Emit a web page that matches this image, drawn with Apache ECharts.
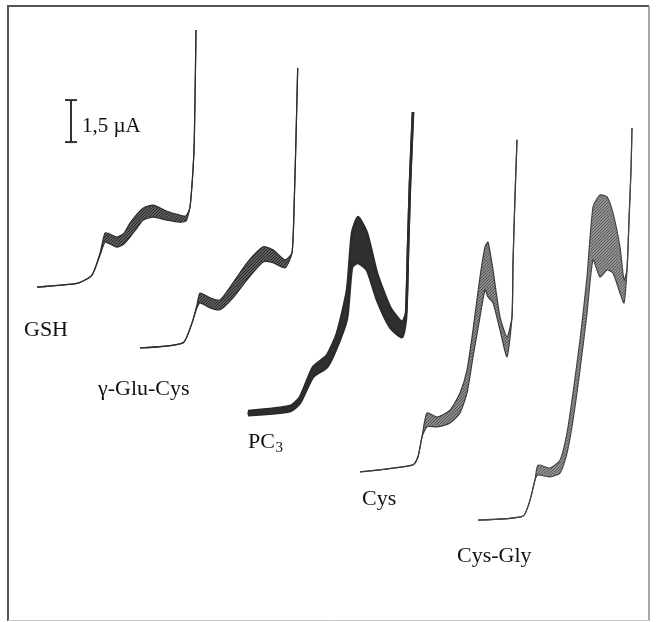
<!DOCTYPE html>
<html>
<head>
<meta charset="utf-8">
<script src="https://cdn.jsdelivr.net/npm/echarts@6/dist/echarts.min.js"></script>
<style>
  html, body { margin: 0; padding: 0; background: #fff; }
  #chart { width: 657px; height: 622px; }
</style>
</head>
<body>
<div id="chart"></div>
<script>
// Polarographic waterfall: potential E (mV, relative to each trace start), current I (µA)
const curveNames = ['GSH', 'γ-Glu-Cys', 'PC3', 'Cys', 'Cys-Gly'];
// waterfall offsets of each trace (mV, µA)
const offsetE = [370, 1400, 2480, 3600, 4780];
const offsetI = [11.96, 9.79, 7.46, 5.36, 3.64];

const gshE  = [0, 410, 550, 630, 680, 730, 800, 870, 930, 1000, 1060, 1160, 1300, 1430, 1490, 1530, 1560, 1573, 1587, 1590];
const gshUp = [0, 0.14, 0.43, 1.21, 1.93, 1.89, 1.79, 1.93, 2.29, 2.61, 2.82, 2.93, 2.71, 2.57, 2.54, 2.86, 4.18, 5.25, 8.36, 9.18];
const gshLo = [0, 0.14, 0.43, 1.14, 1.61, 1.54, 1.43, 1.54, 1.79, 2.11, 2.39, 2.50, 2.39, 2.32, 2.36, 2.86, 4.18, 5.25, 8.36, 9.18];

const gluE  = [0, 430, 520, 570, 600, 700, 800, 930, 1070, 1230, 1330, 1450, 1520, 1543, 1557, 1577];
const gluUp = [0, 0.18, 0.89, 1.54, 1.96, 1.79, 1.71, 2.32, 3.04, 3.61, 3.50, 3.14, 3.39, 5.29, 7.07, 10.0];
const gluLo = [0, 0.18, 0.89, 1.43, 1.61, 1.43, 1.36, 1.79, 2.43, 3.07, 3.04, 2.86, 3.39, 5.29, 7.07, 10.0];

const pcE  = [0, 420, 520, 650, 790, 890, 990, 1040, 1100, 1190, 1290, 1420, 1540, 1580, 1600, 1620, 1650];
const pcUp = [0.07, 0.25, 0.57, 1.64, 2.07, 2.86, 4.39, 6.43, 7.00, 6.43, 5.00, 3.79, 3.25, 3.57, 5.82, 8.21, 10.75];
const pcLo = [-0.07, 0.07, 0.36, 1.29, 1.64, 2.36, 3.39, 5.21, 5.36, 5.11, 4.04, 3.07, 2.71, 3.39, 5.82, 8.21, 10.75];

const cysE  = [0, 530, 580, 620, 670, 770, 900, 1000, 1070, 1130, 1200, 1250, 1280, 1330, 1400, 1470, 1520, 1530, 1550, 1570];
const cysUp = [0, 0.25, 0.54, 1.25, 2.11, 1.96, 2.21, 2.82, 3.64, 5.07, 6.96, 8.04, 8.21, 7.21, 5.54, 4.82, 5.54, 7.46, 9.82, 11.86];
const cysLo = [0, 0.25, 0.54, 1.25, 1.61, 1.61, 1.75, 2.11, 2.82, 4.11, 5.54, 6.50, 6.25, 6.04, 5.07, 4.11, 5.54, 7.46, 9.82, 11.86];

const cgE  = [0, 450, 520, 570, 600, 720, 820, 890, 950, 1020, 1090, 1150, 1220, 1290, 1350, 1420, 1460, 1490, 1510, 1530, 1540];
const cgUp = [0, 0.14, 0.71, 1.43, 1.96, 1.86, 2.14, 3.11, 4.54, 6.43, 8.68, 11.18, 11.61, 11.54, 10.96, 9.75, 8.57, 8.93, 10.71, 12.5, 14.0];
const cgLo = [0, 0.14, 0.71, 1.43, 1.61, 1.54, 1.68, 2.39, 3.57, 5.36, 7.39, 9.29, 8.68, 8.93, 8.82, 8.11, 7.75, 8.93, 10.71, 12.5, 14.0];

// scale bar: 1,5 µA
const scaleBarE = 710;
const scaleBarI = [17.14, 18.64];
const scaleLabel = '1,5 µA';

const traces = [
  { E: gshE, up: gshUp, lo: gshLo },
  { E: gluE, up: gluUp, lo: gluLo },
  { E: pcE,  up: pcUp,  lo: pcLo },
  { E: cysE, up: cysUp, lo: cysLo },
  { E: cgE,  up: cgUp,  lo: cgLo }
];

// striped texture that imitates the oscillating mercury-drop current band
function stripePattern(bg, fg, period, lw) {
  const c = document.createElement('canvas');
  c.width = period; c.height = period;
  const g = c.getContext('2d');
  g.fillStyle = bg; g.fillRect(0, 0, period, period);
  g.strokeStyle = fg; g.lineWidth = lw;
  g.beginPath();
  g.moveTo(-1, period + 1); g.lineTo(period + 1, -1);
  g.moveTo(-1 - period, period + 1); g.lineTo(1, -1);
  g.moveTo(period - 1, period + 1); g.lineTo(2 * period + 1, -1);
  g.stroke();
  return { image: c, repeat: 'repeat' };
}

const styles = [
  { line: '#2e2e2e', fill: stripePattern('#8e8e8e', '#2a2a2a', 3, 1.4), w: 1.2 },
  { line: '#2e2e2e', fill: stripePattern('#8e8e8e', '#2a2a2a', 3, 1.4), w: 1.2 },
  { line: '#2b2b2b', fill: '#2f2f2f', w: 2.6 },
  { line: '#3c3c3c', fill: stripePattern('#a6a6a6', '#505050', 3, 1.2), w: 1.2 },
  { line: '#454545', fill: stripePattern('#aaaaaa', '#5a5a5a', 3, 1.2), w: 1.2 }
];

const SMOOTH = 0.2;
const series = traces.map((t, i) => {
  const st = styles[i];
  const rows = t.E.map((e, j) => [e + offsetE[i], t.lo[j] + offsetI[i], t.up[j] + offsetI[i]]);
  return {
    name: curveNames[i],
    type: 'custom',
    silent: true,
    data: rows,
    encode: { x: 0, y: [1, 2] },
    renderItem: function (params, api) {
      if (params.dataIndex !== 0) return null;
      const upPts = rows.map(r => api.coord([r[0], r[2]]));
      const loPts = rows.map(r => api.coord([r[0], r[1]]));
      const poly = upPts.concat(loPts.slice().reverse());
      return {
        type: 'group',
        children: [
          { type: 'polygon', shape: { points: poly, smooth: SMOOTH }, style: { fill: st.fill, stroke: null } },
          { type: 'polyline', shape: { points: loPts, smooth: SMOOTH }, style: { stroke: st.line, lineWidth: st.w, fill: null } },
          { type: 'polyline', shape: { points: upPts, smooth: SMOOTH }, style: { stroke: st.line, lineWidth: st.w, fill: null } }
        ]
      };
    }
  };
});

series.push({
  type: 'custom',
  silent: true,
  data: [[scaleBarE, scaleBarI[0], scaleBarI[1]]],
  encode: { x: 0, y: [1, 2] },
  renderItem: function (params, api) {
    const p0 = api.coord([api.value(0), api.value(1)]);
    const p1 = api.coord([api.value(0), api.value(2)]);
    const hw = 6;
    const s = { stroke: '#333', lineWidth: 2 };
    return {
      type: 'group',
      children: [
        { type: 'line', shape: { x1: p0[0], y1: p0[1], x2: p1[0], y2: p1[1] }, style: s },
        { type: 'line', shape: { x1: p0[0] - hw, y1: p0[1], x2: p0[0] + hw, y2: p0[1] }, style: s },
        { type: 'line', shape: { x1: p1[0] - hw, y1: p1[1], x2: p1[0] + hw, y2: p1[1] }, style: s }
      ]
    };
  }
});

function txt(text, x, y, size) {
  const fs = size || 22;
  return {
    type: 'text', x: x, y: y, silent: true, z: 100,
    style: { text: text, font: fs + 'px "Liberation Serif", serif', fill: '#111', align: 'left', verticalAlign: 'middle' }
  };
}

const chart = echarts.init(document.getElementById('chart'), null, { renderer: 'canvas' });
chart.setOption({
  animation: false,
  backgroundColor: '#fff',
  grid: { left: 0, right: 0, top: 0, bottom: 0, containLabel: false },
  xAxis: { type: 'value', min: 0, max: 6570, show: false },
  yAxis: { type: 'value', min: 0, max: 22.2143, show: false },
  series: series,
  graphic: [
    { type: 'polyline', silent: true, z: 100, shape: { points: [[8, 621], [8, 6], [649, 6]] }, style: { stroke: '#555', lineWidth: 2, fill: null } },
    { type: 'line', silent: true, z: 100, shape: { x1: 649, y1: 6, x2: 649, y2: 621 }, style: { stroke: '#8a8a8a', lineWidth: 1.5 } },
    { type: 'line', silent: true, z: 100, shape: { x1: 8, y1: 620.5, x2: 649, y2: 620.5 }, style: { stroke: '#c8c8c8', lineWidth: 1 } },
    txt(scaleLabel, 82, 126, 21),
    txt(curveNames[0], 24, 330),
    txt(curveNames[1], 98, 389),
    txt('PC', 248, 442),
    txt('3', 275.5, 448, 15),
    txt(curveNames[3], 362, 499),
    txt(curveNames[4], 457, 556)
  ]
});
</script>
</body>
</html>
